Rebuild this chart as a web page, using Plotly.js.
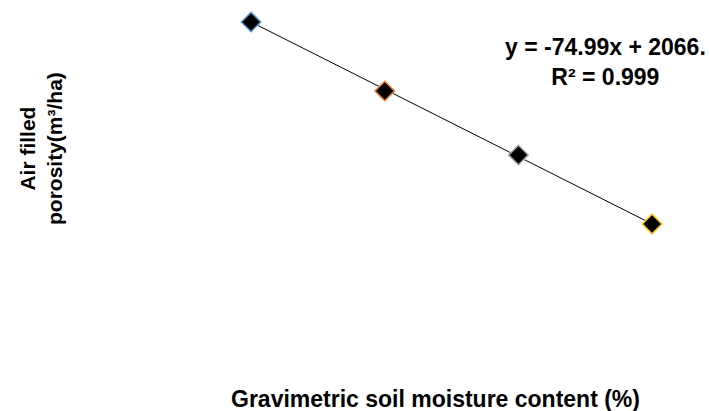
<!DOCTYPE html>
<html><head><meta charset="utf-8">
<script src="https://cdn.plot.ly/plotly-3.0.1.min.js"></script>
<style>html,body{margin:0;padding:0;background:#fff}#chart{width:709px;height:411px}</style>
</head><body><div id="chart"></div>
<script>
const moisture = [10, 15, 20, 25];
const porosity = [1316, 931.7, 575.3, 191];
const outlineColors = ['#5B9BD5', '#ED7D31', '#A5A5A5', '#FFC000'];
const slope = -74.99, intercept = 2066;
const eqText = 'y = -74.99x + 2066.<br>R² = 0.999';
const xTitle = 'Gravimetric soil moisture content (%)';
const yTitle = 'Air filled<br>porosity(m³/ha)';

const fnt = 'Liberation Sans, Arial, sans-serif';
const trendX = [moisture[0], moisture[moisture.length-1]];
const trendY = trendX.map(x => slope*x + intercept);

const data = [
  {x: trendX, y: trendY, mode: 'lines', line: {color: '#000', width: 1}, hoverinfo: 'skip', showlegend: false},
  {x: moisture, y: porosity, mode: 'markers', showlegend: false,
   marker: {symbol: 'diamond', size: 15, color: '#000', line: {color: outlineColors, width: 1.5}}}
];
const layout = {
  width: 709, height: 411,
  margin: {l: 100, r: 20, t: 10, b: 80},
  paper_bgcolor: '#fff', plot_bgcolor: '#fff',
  xaxis: {range: [4.35, 26.38], visible: false},
  yaxis: {range: [-404.9, 1382.8], visible: false},
  annotations: [
    {xref: 'paper', yref: 'paper', x: (605-100)/589, y: (331-62)/321, text: eqText, showarrow: false,
     font: {family: fnt, size: 23, color: '#000', weight: 'bold'}, align: 'center', xanchor: 'center', yanchor: 'middle'},
    {xref: 'paper', yref: 'paper', x: (435-100)/589, y: (331-399)/321, text: xTitle, showarrow: false,
     font: {family: fnt, size: 23, color: '#000', weight: 'bold'}, xanchor: 'center', yanchor: 'middle'},
    {xref: 'paper', yref: 'paper', x: (41-100)/589, y: (331-149)/321, text: yTitle, showarrow: false, textangle: -90,
     font: {family: fnt, size: 21, color: '#000', weight: 'bold'}, align: 'center', xanchor: 'center', yanchor: 'middle'}
  ]
};
Plotly.newPlot('chart', data, layout, {displayModeBar: false, staticPlot: true});
</script></body></html>
